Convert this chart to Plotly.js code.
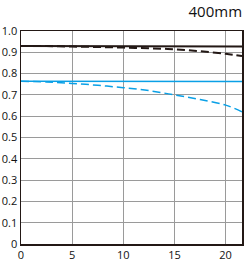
<!DOCTYPE html>
<html><head><meta charset="utf-8">
<script src="https://cdn.plot.ly/plotly-3.0.1.min.js"></script>
<style>html,body{margin:0;padding:0;background:#fff}#c{width:247px;height:262px}</style>
</head><body><div id="c"></div>
<script>
const xPos = [0, 2.5, 5, 7.5, 10, 12.5, 15, 17.5, 20, 21.6];
const blackSolid = [0.930, 0.930, 0.930, 0.930, 0.929, 0.929, 0.928, 0.928, 0.927, 0.927];
const blackDashed = [0.930, 0.929, 0.927, 0.925, 0.922, 0.919, 0.914, 0.905, 0.893, 0.882];
const blueSolid = [0.764, 0.764, 0.764, 0.764, 0.763, 0.763, 0.763, 0.763, 0.763, 0.763];
const blueDashed = [0.764, 0.761, 0.754, 0.745, 0.734, 0.720, 0.700, 0.678, 0.652, 0.621];
const yTickVals = [0, 0.1, 0.2, 0.3, 0.4, 0.5, 0.6, 0.7, 0.8, 0.9, 1.0];
const yTickText = ["0", "0.1", "0.2", "0.3", "0.4", "0.5", "0.6", "0.7", "0.8", "0.9", "1.0"];
const xTickVals = [0, 5, 10, 15, 20];
const chartTitle = "400mm";

const traces = [
  {x: xPos, y: blueSolid, mode: "lines", line: {color: "#0aa0e6", width: 1.5}, hoverinfo: "skip"},
  {x: xPos, y: blueDashed, mode: "lines", line: {color: "#0aa0e6", width: 1.5, dash: "8px,4px", shape: "spline"}, hoverinfo: "skip"},
  {x: xPos, y: blackSolid, mode: "lines", line: {color: "#231815", width: 2}, hoverinfo: "skip"},
  {x: xPos, y: blackDashed, mode: "lines", line: {color: "#231815", width: 2, dash: "8px,4px", shape: "spline"}, hoverinfo: "skip"}
];
const layout = {
  width: 247, height: 262,
  margin: {l: 21, r: 5, t: 31, b: 18, pad: 0},
  paper_bgcolor: "#fff", plot_bgcolor: "#fff",
  showlegend: false,
  font: {family: "Open Sans, sans-serif", size: 11, color: "#111"},
  title: {text: chartTitle, x: 0.98, xanchor: "right", y: 0.955, yanchor: "middle", font: {size: 15, color: "#111", family: "Open Sans, sans-serif"}},
  xaxis: {range: [0, 21.6], tickvals: xTickVals, showgrid: true, gridcolor: "#9a9a9a", gridwidth: 1,
          zeroline: false, showline: true, linecolor: "#231815", linewidth: 1.5, mirror: true,
          ticks: "", tickfont: {size: 11, color: "#111"}, fixedrange: true},
  yaxis: {range: [0, 1.0], tickvals: yTickVals, ticktext: yTickText, showgrid: true, gridcolor: "#9a9a9a", gridwidth: 1,
          zeroline: false, showline: true, linecolor: "#231815", linewidth: 1.5, mirror: true,
          ticks: "", tickfont: {size: 11, color: "#111"}, fixedrange: true}
};
Plotly.newPlot("c", traces, layout, {staticPlot: true, displayModeBar: false});
</script></body></html>
